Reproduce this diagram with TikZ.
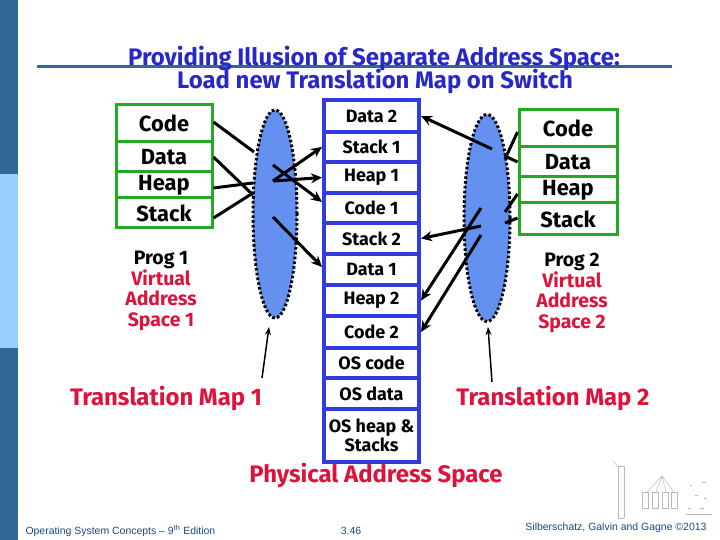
\documentclass[tikz,border=0pt]{standalone}
\usepackage{fontspec}
\setmainfont{Fira Sans}
\newfontfamily\footfont{Liberation Sans}
\usetikzlibrary{shapes.geometric,arrows.meta}
\definecolor{sidedark}{RGB}{51,102,153}
\definecolor{sidelight}{RGB}{153,204,255}
\definecolor{titleblue}{RGB}{40,40,200}
\definecolor{boxgreen}{RGB}{34,170,34}
\definecolor{colblue}{RGB}{50,60,220}
\definecolor{ellblue}{RGB}{100,145,240}
\definecolor{vred}{RGB}{220,20,60}
\definecolor{foottext}{RGB}{31,73,125}
\definecolor{thumb}{RGB}{185,185,185}
\begin{document}
\begin{tikzpicture}[x=1bp,y=-1bp,
  gbox/.style={draw=boxgreen, line width=3bp, fill=white, minimum width=96bp, inner sep=0pt,
    font=\fontsize{22}{22}\selectfont\bfseries},
  pbox/.style={draw=colblue, line width=4bp, fill=white, minimum width=95bp, inner sep=0pt,
    font=\fontsize{18}{19}\selectfont\bfseries, align=center},
  vas/.style={ellipse, draw=black, fill=ellblue, line width=3bp, dash pattern=on 2.6bp off 2.2bp, inner sep=0pt},
  map/.style={-{Stealth[length=11bp,width=10bp]}, line width=3bp},
  link/.style={line width=3bp},
  tmap/.style={-{Stealth[length=8bp,width=6bp]}, line width=1.5bp},
  label/.style={align=center, font=\fontsize{19.5}{20.5}\selectfont\bfseries},
  big/.style={text=vred, font=\fontsize{24}{25}\selectfont\bfseries},
  foot/.style={text=foottext, font=\footfont\fontsize{10.5}{11}\selectfont}]
\useasboundingbox (0,0) rectangle (720,540);
\fill[white] (0,0) rectangle (720,540);
% sidebar
\fill[sidedark] (0,0) rectangle (18,540);
\fill[sidelight] (0,174) rectangle (18,348);
% title
\draw[sidedark, line width=3bp] (37,67) -- (672,67);
\node[text=titleblue, font=\fontsize{24}{26}\selectfont\bfseries] (t1) at (374,58) {Providing Illusion of Separate Address Space:};
\node[text=titleblue, font=\fontsize{24}{26}\selectfont\bfseries] (t2) at (375,81) {Load new Translation Map on Switch};
% left program boxes
\node[gbox, minimum height=37bp] (lcode) at (164,123.5) {Code};
\node[gbox, minimum height=30bp] (ldata) at (164,157) {Data};
\node[gbox, minimum height=26bp] (lheap) at (164,185) {Heap};
\node[gbox, minimum height=30bp] (lstack) at (164,213) {Stack};
\node[label] (prog1) at (161,291) {Prog 1\\\textcolor{vred}{Virtual}\\\textcolor{vred}{Address}\\\textcolor{vred}{Space 1}};
% right program boxes
\node[gbox, minimum width=98bp, minimum height=37bp] (rcode) at (568,128.5) {Code};
\node[gbox, minimum width=98bp, minimum height=30bp] (rdata) at (568,162) {Data};
\node[gbox, minimum width=98bp, minimum height=26bp] (rheap) at (568,190) {Heap};
\node[gbox, minimum width=98bp, minimum height=32bp] (rstack) at (568,219) {Stack};
\node[label] (prog2) at (572,293) {Prog 2\\\textcolor{vred}{Virtual}\\\textcolor{vred}{Address}\\\textcolor{vred}{Space 2}};
% physical memory column
\node[pbox, minimum height=32bp] (d2) at (371.5,116) {Data 2};
\node[pbox, minimum height=30bp] (s1) at (371.5,147) {Stack 1};
\node[pbox, minimum height=31bp] (h1) at (371.5,177.5) {Heap 1};
\node[pbox, minimum height=30bp] (c1) at (371.5,208) {Code 1};
\node[pbox, minimum height=31bp] (s2) at (371.5,238.5) {Stack 2};
\node[pbox, minimum height=31bp] (d1) at (371.5,269.5) {Data 1};
\node[pbox, minimum height=31bp] (h2) at (371.5,300.5) {Heap 2};
\node[pbox, minimum height=32bp] (c2) at (371.5,332) {Code 2};
\node[pbox, minimum height=30bp] (osc) at (371.5,363) {OS code};
\node[pbox, minimum height=31bp] (osd) at (371.5,393.5) {OS data};
\node[pbox, minimum height=53bp, font=\fontsize{18}{19}\selectfont\bfseries] (osh) at (371.5,435.5) {OS heap \&\\Stacks};
% translation maps
\node[vas, minimum width=44bp, minimum height=208bp] (tm1) at (275,214) {};
\node[vas, minimum width=46bp, minimum height=207bp] (tm2) at (487,218) {};
% left inner points
\coordinate (le1) at (254,152);
\coordinate (le2) at (253,195);
\coordinate (le3) at (253,183);
\coordinate (le4) at (253,193);
\coordinate (la) at (273,181);
\coordinate (lb) at (273,165);
\coordinate (lc) at (273,217);
\draw[link] (lcode.east |- 0,122) -- (le1);
\draw[link] (ldata.east) -- (le2);
\draw[link] (lheap.east |- 0,188) -- (le3);
\draw[link] (lstack.east |- 0,218) -- (le4);
\draw[map] (la) -- (s1.west);
\draw[map] (la) -- (h1.west);
\draw[map] (lb) -- (c1.west |- 0,202);
\draw[map] (lc) -- (d1.west |- 0,267);
% right inner points
\coordinate (re1) at (505,159);
\coordinate (re2) at (505,156);
\coordinate (re3) at (505,212);
\coordinate (re4) at (505,223);
\coordinate (ra) at (492,149);
\coordinate (rb) at (481,226);
\coordinate (rc) at (481,208);
\coordinate (rd) at (481,235);
\draw[link] (rcode.west |- 0,132) -- (re1);
\draw[link] (rdata.west) -- (re2);
\draw[link] (rheap.west |- 0,194) -- (re3);
\draw[link] (rstack.west |- 0,218) -- (re4);
\draw[map] (ra) -- (d2.east);
\draw[map] (rb) -- (s2.east);
\draw[map] (rc) -- (h2.east);
\draw[map] (rd) -- (c2.east);
% labels below
\node[big] (map1) at (166,398) {Translation Map 1};
\node[big] (map2) at (553,398) {Translation Map 2};
\node[big] (phys) at (376,475) {Physical Address Space};
\coordinate (m1tail) at (262,378);
\coordinate (m1head) at (269,327);
\coordinate (m2tail) at (492,382);
\coordinate (m2head) at (488,327);
\draw[tmap] (m1tail) -- (m1head);
\draw[tmap] (m2tail) -- (m2head);
% thumbnail sketch (bottom right)
\begin{scope}[draw=thumb, line width=0.5bp]
\draw (618,466) -- (618,518) (624,466) -- (624,518);
\draw (618,466) -- (624,466) (618,518) -- (624,518);
\draw (613,461) -- (619,468);
\draw (662,476) -- (647,492) (662,476) -- (656,492) (662,476) -- (666,492) (662,476) -- (674,492);
\draw (642,492) rectangle (648,508) (652,492) rectangle (658,508) (662,492) rectangle (668,508) (671,492) rectangle (677,508);
\draw (690,485) -- (692,485) (702,482) -- (706,482) (695,495) -- (698,495) (704,498) -- (707,498) (688,508) -- (691,508) (700,508) -- (704,508);
\draw (686,514) -- (712,514);
\end{scope}
% footer
\node[foot, anchor=west] (ft1) at (22,531) {Operating System Concepts – 9\textsuperscript{th} Edition};
\node[foot] (ft2) at (351,531) {3.46};
\node[foot, anchor=east] (ft3) at (710,528) {Silberschatz, Galvin and Gagne ©2013};
\end{tikzpicture}
\end{document}
